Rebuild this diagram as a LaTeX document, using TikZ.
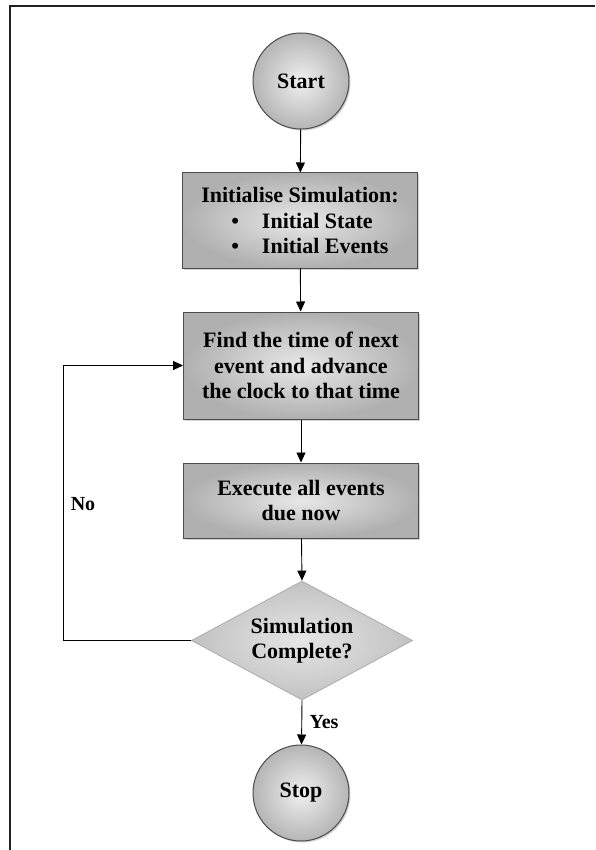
\documentclass[tikz,border=0pt]{standalone}
\usepackage{fontspec}
\setmainfont{Liberation Serif}
\usetikzlibrary{shapes.geometric,shadows,arrows.meta}
\begin{document}
\begin{tikzpicture}[x=1pt,y=-1pt,
  font=\fontsize{22}{25.5}\selectfont\bfseries,
  shadowed/.style={drop shadow={shadow xshift=1.5pt, shadow yshift=-1.5pt, fill=gray, opacity=0.35}},
  box/.style={draw=gray!60!black, line width=1pt, inner color=gray!18, outer color=gray!62,
    minimum width=235pt, align=center, shadowed},
  term/.style={circle, draw=gray!60!black, line width=1pt, inner color=gray!12, outer color=gray!58,
    minimum size=96pt, inner sep=0pt, shadowed},
  dec/.style={diamond, draw=gray!65, line width=0.8pt, inner color=gray!20, outer color=gray!48,
    minimum width=221pt, minimum height=119pt, aspect=1.86, inner sep=0pt, align=center},
  arr/.style={draw=black, line width=0.9pt, -{Triangle[length=10pt,width=9pt]}},
  lab/.style={font=\fontsize{20}{22}\selectfont\bfseries, inner sep=0pt}
]
\useasboundingbox (0,0) rectangle (595,850);
\fill[white] (0,0) rectangle (595,850);
\draw[line width=2pt, gray!25!black] (10,850) -- (10,6) -- (595,6);

\node[term] (start) at (301,81) {Start};
\node[box, minimum height=95pt, align=left] (init) at (300,220.5)
  {Initialise Simulation:\\\hspace*{30pt}\textbullet\hspace*{23pt}Initial State\\\hspace*{30pt}\textbullet\hspace*{23pt}Initial Events};
\node[box, minimum height=107pt] (find) at (301,365.5) {Find the time of next\\event and advance\\the clock to that time};
\node[box, minimum height=75pt] (exec) at (301,500.5) {Execute all events\\due now};
\node[dec] (dec) at (302,640.5) {Simulation\\Complete?};
\node[term] (stop) at (301,793) {Stop};

\draw[arr] (start) -- (init);
\draw[arr] (init) -- (find);
\draw[arr] (find) -- (exec);
\draw[arr] (exec) -- (dec.north);
\draw[arr] (dec.south) -- (stop);

\coordinate (lp) at (63,640.5);
\draw[arr] (dec.west) -- (lp) |- (find.west);

\node[lab] (yes) at (324,722) {Yes};
\node[lab] (no) at (83,504) {No};
\end{tikzpicture}
\end{document}
